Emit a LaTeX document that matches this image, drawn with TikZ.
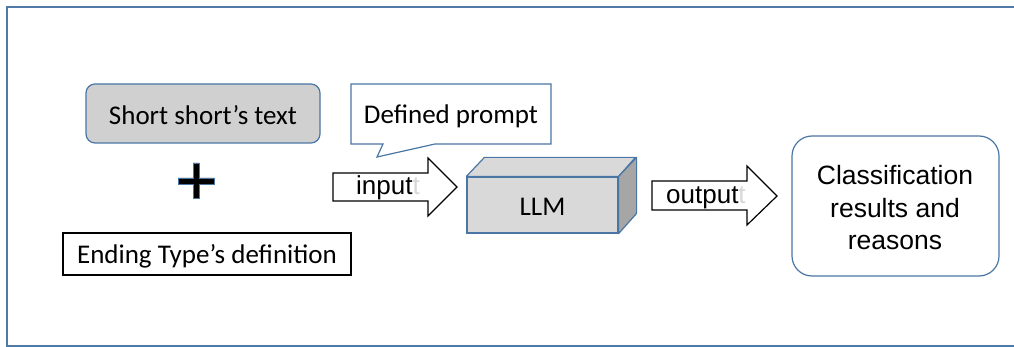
\documentclass[tikz,border=0pt]{standalone}
\usepackage{fontspec}
\setmainfont{Carlito}
\newfontfamily\arialike{Liberation Sans}
\usetikzlibrary{calc}
\definecolor{frameblue}{RGB}{79,122,168}
\definecolor{edgeblue}{RGB}{74,118,165}
\definecolor{boxgray}{RGB}{208,208,208}
\definecolor{cubefront}{RGB}{217,217,217}
\definecolor{cubeside}{RGB}{166,166,166}
\definecolor{ghost}{RGB}{215,215,215}
\tikzset{
  txt/.style={font=\fontsize{27}{32}\selectfont, inner sep=0pt},
  armtxt/.style={font=\arialike\fontsize{26}{30}\selectfont, inner sep=0pt, anchor=base west},
  bluebox/.style={draw=edgeblue, line width=1.2pt},
  blockarrow/.style={draw=black, line width=1.2pt, fill=white, line join=miter},
}
\begin{document}
\begin{tikzpicture}[x=1pt, y=-1pt]
  \useasboundingbox (0,0) rectangle (1014,347);
  % outer frame (right side runs off the page)
  \draw[frameblue, line width=2pt] (1030,7) -- (7,7) -- (7,346) -- (1030,346);

  % short story box
  \node[bluebox, fill=boxgray, rounded corners=9pt, minimum width=234pt, minimum height=59pt]
    (story) at (203,113.5) {};
  \node[txt] (storytext) at (203,115.5) {Short short’s text};

  % plus sign
  \filldraw[draw=edgeblue, fill=black, line width=0.8pt]
    (193,163) -- (199,163) -- (199,178) -- (214,178) -- (214,184) -- (199,184)
    -- (199,198) -- (193,198) -- (193,184) -- (178,184) -- (178,178) -- (193,178) -- cycle;

  % ending type definition box
  \node[draw=black, line width=1.2pt, fill=white, minimum width=288pt, minimum height=42pt]
    (ending) at (207,254) {};
  \node[txt] (endingtext) at (207,256) {Ending Type’s definition};

  % callout with the prompt
  \coordinate (ptip) at (377,157);
  \filldraw[bluebox, fill=white, line join=miter]
    (351,84) -- (551,84) -- (551,144) -- (435,144) -- (ptip) -- (383,144) -- (351,144) -- cycle;
  \node[txt] (prompt) at (451,116) {Defined prompt};

  % input arrow
  \filldraw[blockarrow]
    (333,173) -- (428,173) -- (428,158) -- (457,187) -- (428,216) -- (428,201) -- (333,201) -- cycle;
  \node[armtxt] (inlabel) at (356,195) {input\textcolor{ghost}{t}};

  % LLM cuboid
  \node[bluebox, fill=cubefront, minimum width=151pt, minimum height=56pt] (llm)
    at (542.5,205) {};
  \node[txt] (llmtext) at (542.5,207) {LLM};
  \filldraw[bluebox, fill=cubefront, line join=round]
    (llm.north west) -- ++(18,-19) -- ++(151,0) -- (llm.north east) -- cycle;
  \filldraw[bluebox, fill=cubeside, line join=round]
    (llm.north east) -- ++(18,-19) -- ++(0,56) -- (llm.south east) -- cycle;

  % output arrow
  \filldraw[blockarrow]
    (652,181) -- (747,181) -- (747,166) -- (777,196) -- (747,225) -- (747,210) -- (652,210) -- cycle;
  \node[armtxt] (outlabel) at (666,204) {output\textcolor{ghost}{t}};

  % result box
  \node[bluebox, fill=white, rounded corners=20pt, minimum width=207pt, minimum height=140pt]
    (result) at (895.5,206) {};
  \node[txt, font=\arialike\fontsize{26.5}{32.5}\selectfont, align=center] (resulttext)
    at (895,208) {Classification\\results and\\reasons};
\end{tikzpicture}
\end{document}
